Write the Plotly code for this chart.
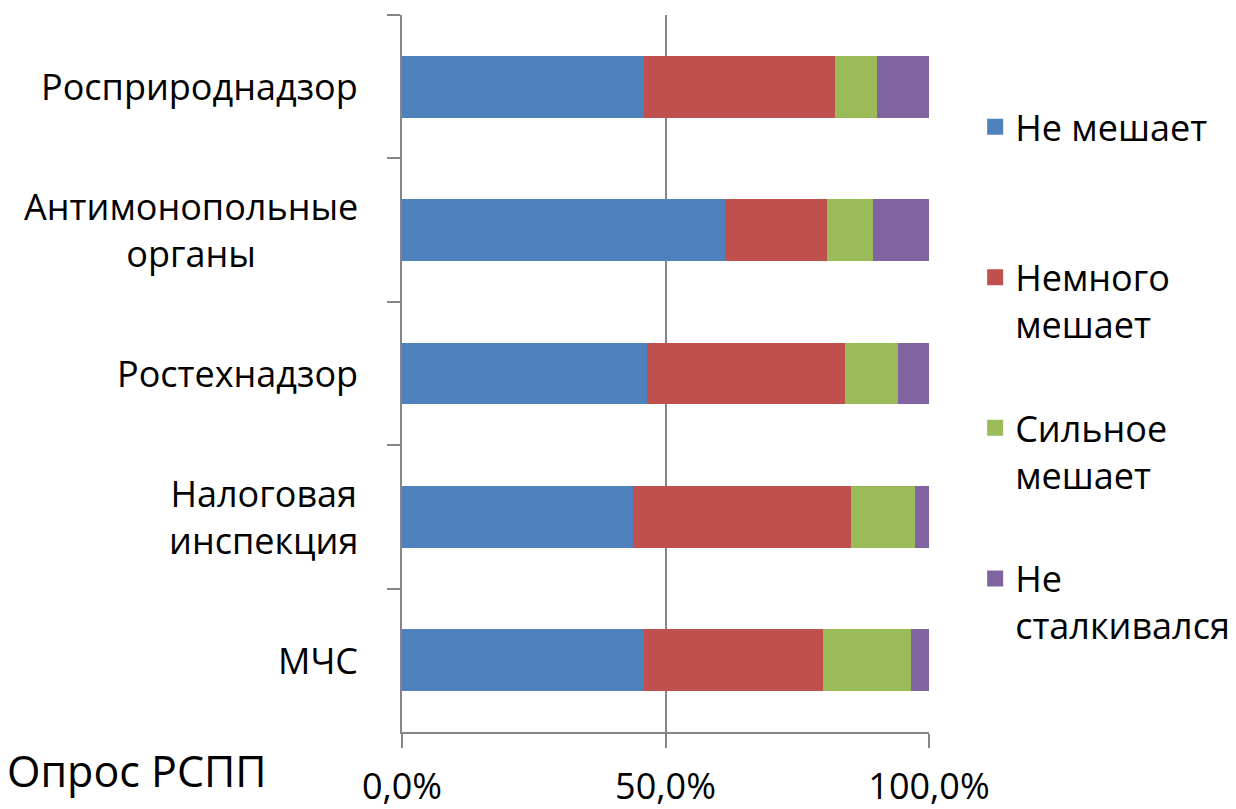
import plotly.graph_objects as go

categories = ["Росприроднадзор", "Антимонопольные<br>органы", "Ростехнадзор",
              "Налоговая<br>инспекция", "МЧС"]
series_names = ["Не мешает<br>\u00a0", "Немного<br>мешает", "Сильное<br>мешает", "Не<br>сталкивался"]
ne_meshaet = [46.0, 61.3, 46.5, 43.8, 46.0]
nemnogo = [36.1, 19.3, 37.5, 41.4, 33.8]
silnoe = [8.0, 8.7, 10.2, 12.1, 16.7]
ne_stalk = [9.9, 10.7, 5.8, 2.7, 3.5]
colors = ["#4F81BD", "#C0504D", "#9BBB59", "#8064A2"]
x_tickvals = [0, 50, 100]
x_ticktext = ["0,0%", "50,0%", "100,0%"]
source_note = "Опрос РСПП"

FONT = "Open Sans"
fig = go.Figure()
for i, (name, vals) in enumerate(zip(series_names, [ne_meshaet, nemnogo, silnoe, ne_stalk])):
    fig.add_trace(go.Bar(
        y=categories, x=vals, name=name, orientation="h",
        marker=dict(color=colors[i], line=dict(width=0)),
        legendgroup=f"g{i}", showlegend=False,
    ))
    # legend entry with a larger square swatch
    fig.add_trace(go.Scatter(
        x=[None], y=[None], mode="markers", name=name,
        marker=dict(symbol="square", size=22, color=colors[i], line=dict(width=0)),
        legendgroup=f"g{i}", showlegend=True, hoverinfo="skip",
    ))

annotations = []
for c in categories:
    annotations.append(dict(x=-0.0795, y=c, xref="paper", yref="y", text=c,
                            showarrow=False, xanchor="right", yanchor="middle",
                            align="center", font=dict(family=FONT, size=36, color="#000")))
annotations.append(dict(x=-0.753, y=-0.053, xref="paper", yref="paper", text=source_note,
                        showarrow=False, xanchor="left", yanchor="middle",
                        font=dict(family=FONT, size=43, color="#000")))

fig.update_layout(
    width=1236, height=809,
    margin=dict(l=394, r=315, t=7, b=60),
    paper_bgcolor="white", plot_bgcolor="white",
    barmode="stack", bargap=0.57,
    font=dict(family=FONT, size=36, color="#000"),
    showlegend=True,
    legend=dict(x=1.0876, y=0.886, xanchor="left", yanchor="top",
                traceorder="grouped", tracegroupgap=54, valign="top",
                itemsizing="trace",
                font=dict(family=FONT, size=36, color="#000")),
    annotations=annotations,
    xaxis=dict(range=[0, 100], tickvals=x_tickvals, ticktext=x_ticktext,
               showgrid=True, gridcolor="#868686", gridwidth=2,
               showline=True, linecolor="#868686", linewidth=2,
               ticks="outside", ticklen=14, tickwidth=2, tickcolor="#868686",
               zeroline=False, fixedrange=True, ticklabelstandoff=8,
               tickfont=dict(family=FONT, size=36, color="#000")),
    yaxis=dict(autorange="reversed", tickson="boundaries", ticks="outside",
               ticklen=13, tickwidth=2, tickcolor="#868686",
               showline=True, linecolor="#868686", linewidth=2,
               showgrid=False, showticklabels=False, fixedrange=True),
)

fig.write_html("out.html")
